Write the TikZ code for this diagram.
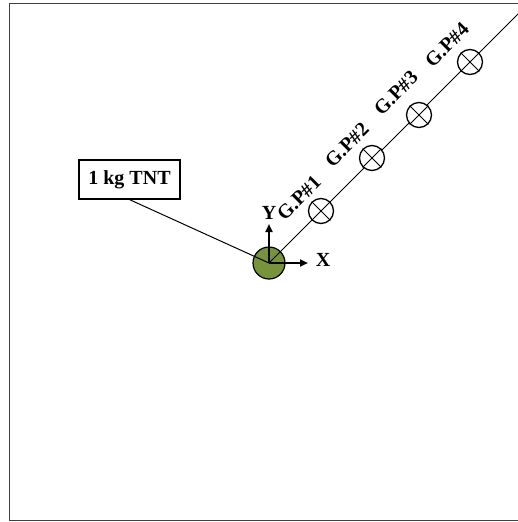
\documentclass[tikz,border=0pt]{standalone}
\usepackage{fontspec}
\setmainfont{Liberation Serif}
\usetikzlibrary{arrows.meta, calc}

\definecolor{chargegreen}{RGB}{119,147,60}

\begin{document}
\begin{tikzpicture}[
    x=1pt, y=-1pt,
    line width=1pt,
    >={Triangle[length=8pt, width=7pt]},
    font=\fontsize{20}{22}\selectfont\bfseries,
    gauge/.style={circle, draw, fill=white, line width=1.3pt, minimum size=25pt, inner sep=0pt},
    label/.style={inner sep=1pt}
]

    % === CANVAS & FRAME ===
    \useasboundingbox (0,0) rectangle (518,522);
    \clip (0,0) rectangle (518,522);
    \draw[line width=1.3pt, black!75] (9.5,3.5) rectangle (540,520.5);

    % === CHARGE (origin) ===
    \coordinate (O) at (269,263);
    \node[circle, draw, line width=1.2pt, fill=chargegreen, minimum size=32pt, inner sep=0pt] (charge) at (O) {};

    % Measurement line towards the gauges
    \coordinate (LineEnd) at (540,-8);
    \draw (O) -- (LineEnd);

    % === GAUGE POINTS ===
    \foreach \i/\gx/\gy/\lx/\ly in {1/321/211/299/198, 2/372/158/347/145,
                                   3/419/115/396/93, 4/470/62/447/45} {
        \node[gauge] (gp\i) at (\gx,\gy) {};
        \draw (gp\i.north west) -- (gp\i.south east);
        \draw (gp\i.north east) -- (gp\i.south west);
        \node[label, rotate=45] (gplabel\i) at (\lx,\ly) {G.P\#\i};
    }

    % === CHARGE LABEL ===
    \node[draw, line width=1.2pt, minimum width=101pt, minimum height=39pt] (tnt) at (129.5,179.5) {1 kg TNT};
    \draw (tnt.south) -- (O);

    % === AXES ===
    \coordinate (Ytip) at (269,224);
    \coordinate (Xtip) at (308,263);
    \draw[->, line width=2pt] (O) -- (Ytip);
    \draw[->, line width=2pt] (O) -- (Xtip);
    \node[label] (ylabel) at (269,213) {Y};
    \node[label] (xlabel) at (323,260) {X};

\end{tikzpicture}
\end{document}
